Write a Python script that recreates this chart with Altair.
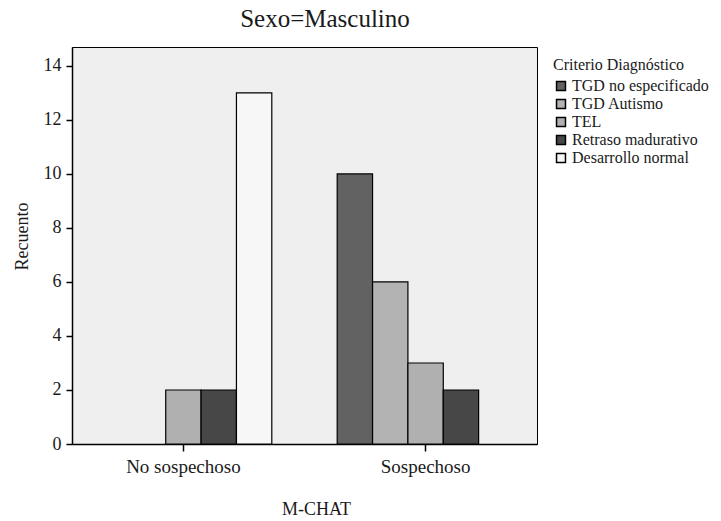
import altair as alt
import pandas as pd

title_text = "Sexo=Masculino"
groups = ["No sospechoso", "Sospechoso"]
criteria = ["TGD no especificado", "TGD Autismo", "TEL", "Retraso madurativo", "Desarrollo normal"]
counts_no = [0, 0, 2, 2, 13]
counts_si = [10, 6, 3, 2, 0]
colors = ["#626262", "#b3b3b3", "#b0b0b0", "#474747", "#f7f7f7"]

rows = []
for g, vals in zip(groups, [counts_no, counts_si]):
    for i, (c, v) in enumerate(zip(criteria, vals)):
        rows.append({"M-CHAT": g, "Criterio Diagnóstico": c, "Recuento": v, "orden": i})
df = pd.DataFrame(rows)

FONT = "Liberation Serif, Times New Roman, serif"

bars = alt.Chart(df).transform_filter(
    alt.datum.Recuento > 0
).mark_bar(stroke="black", strokeWidth=1.2).encode(
    x=alt.X("M-CHAT:N", sort=groups,
            scale=alt.Scale(domain=groups, paddingInner=0.27, paddingOuter=0.095),
            axis=alt.Axis(labelAngle=0, title="M-CHAT", titlePadding=24, titleX=244,
                          labelPadding=6, tickSize=7, domainColor="black",
                          labelFontSize=19,
                          tickColor="black", domainWidth=1.5, tickWidth=1.5)),
    xOffset=alt.XOffset("Criterio Diagnóstico:N", sort=criteria,
                        scale=alt.Scale(domain=criteria, paddingInner=0, paddingOuter=0)),
    y=alt.Y("Recuento:Q", scale=alt.Scale(domain=[0, 14.7], nice=False),
            axis=alt.Axis(values=list(range(0, 15, 2)), grid=False, title="Recuento",
                          titlePadding=12, titleY=189, tickSize=6, labelPadding=5,
                          domainColor="black", tickColor="black",
                          domainWidth=1.5, tickWidth=1.5)),
    color=alt.Color("Criterio Diagnóstico:N", sort=criteria,
                    scale=alt.Scale(domain=criteria, range=colors),
                    legend=alt.Legend(orient="none", legendX=481, legendY=10,
                                      symbolType="square", symbolSize=80,
                                      symbolStrokeColor="black", symbolStrokeWidth=1.5,
                                      rowPadding=2, labelOffset=3, labelLimit=220,
                                      titleFont=FONT, labelFont=FONT,
                                      titleFontSize=16, labelFontSize=16)),
)

title = alt.Chart(pd.DataFrame({"t": [title_text]})).mark_text(
    font=FONT, fontSize=25, color="#1a1a1a", baseline="alphabetic", align="center"
).encode(
    text="t:N", x=alt.value(253), y=alt.value(-20)
)

chart = alt.layer(bars, title).properties(
    width=465, height=397,
    padding={"left": 64, "top": 39, "right": 176, "bottom": 78},
    autosize=alt.AutoSizeParams(type="none"),
).configure(
    font=FONT
).configure_view(
    fill="#efefef", stroke="black", strokeWidth=1
).configure_axis(
    labelFont=FONT, titleFont=FONT, labelFontSize=18, titleFontSize=18,
    labelColor="#1a1a1a", titleColor="#1a1a1a", titleFontWeight="normal"
).configure_legend(
    titleFont=FONT, labelFont=FONT, titleFontSize=16, labelFontSize=16,
    titleFontWeight="normal", titleColor="#1a1a1a", labelColor="#1a1a1a"
)

chart.save("out.html", embed_options={"renderer": "svg", "actions": False})
